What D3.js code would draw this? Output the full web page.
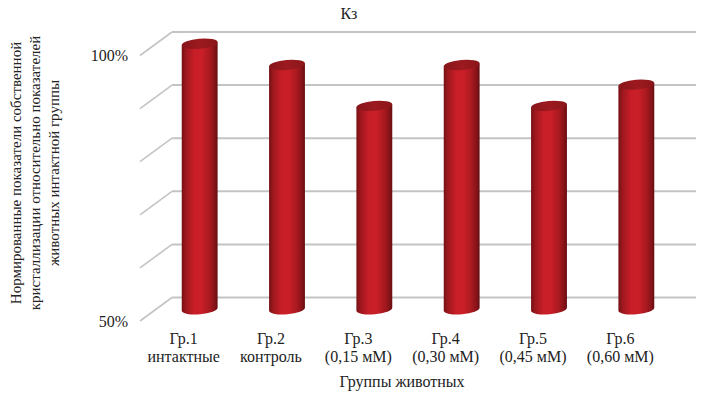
<!DOCTYPE html>
<html>
<head>
<meta charset="utf-8">
<script src="https://cdn.jsdelivr.net/npm/d3@7"></script>
<style>
  html, body { margin: 0; padding: 0; background: #fff; }
  svg { display: block; }
</style>
</head>
<body>
<svg id="chart" width="708" height="397"></svg>
<script>
// ---- data ----
const categories = ["Гр.1", "Гр.2", "Гр.3", "Гр.4", "Гр.5", "Гр.6"];
const subLabels = ["интактные", "контроль", "(0,15 мМ)", "(0,30 мМ)", "(0,45 мМ)", "(0,60 мМ)"];
const values = [100, 96, 88.3, 96, 88.3, 92.3];
const yTicks = [50, 60, 70, 80, 90, 100];
const yTickLabels = ["50%", "", "", "", "", "100%"];
const title = "Кз";
const xTitle = "Группы животных";
const yTitleLines = [
  "Нормированные показатели собственной",
  "кристаллизации относительно показателей",
  "животных интактной группы"
];

// ---- layout ----
const FONT = "'Liberation Serif', 'Times New Roman', 'DejaVu Serif', serif";
const svg = d3.select("#chart").attr("font-family", FONT);
const depthX = 32, depthY = 23.5;
const yBack = d3.scaleLinear().domain([50, 100]).range([297.5, 32]);
const yFront = v => yBack(v) + depthY;
const x = d3.scaleBand().domain(categories).range([140, 664]).padding(0);
const backRight = 696;

const defs = svg.append("defs");
const g1 = defs.append("linearGradient").attr("id", "cyl").attr("x1", "0").attr("x2", "1").attr("y1", "0").attr("y2", "0");
[["0%", "#741115"], ["12%", "#9e181e"], ["35%", "#c81e27"], ["55%", "#ca1f28"], ["78%", "#a8191f"], ["92%", "#851318"], ["100%", "#650d11"]]
  .forEach(([o, c]) => g1.append("stop").attr("offset", o).attr("stop-color", c));
const g2 = defs.append("linearGradient").attr("id", "cap").attr("x1", "0").attr("x2", "1").attr("y1", "0").attr("y2", "0");
[["0%", "#86151a"], ["50%", "#9c1a1f"], ["100%", "#8a161a"]]
  .forEach(([o, c]) => g2.append("stop").attr("offset", o).attr("stop-color", c));

// ---- gridlines ----
const grid = svg.append("g");
grid.selectAll("line.back").data(yTicks).join("line")
  .attr("x1", 140 + depthX).attr("x2", backRight)
  .attr("y1", d => yBack(d)).attr("y2", d => yBack(d))
  .attr("stroke", "#c4c4c4").attr("stroke-width", 2);
grid.selectAll("line.side").data(yTicks).join("line")
  .attr("x1", 140).attr("y1", d => yFront(d))
  .attr("x2", 140 + depthX).attr("y2", d => yBack(d))
  .attr("stroke", "#c4c4c4").attr("stroke-width", 1.6);

// ---- y tick labels ----
svg.append("g").selectAll("text").data(yTicks).join("text")
  .attr("x", 128).attr("y", d => yFront(d)).attr("dy", "0.35em")
  .attr("text-anchor", "end").attr("font-size", "16px").attr("fill", "#222")
  .text((d, i) => yTickLabels[i]);

// ---- cylinders ----
const rx = 18, ry = 5, rot = -5;
const rad = rot * Math.PI / 180;
const ex = rx * Math.cos(rad), ey = rx * Math.sin(rad);
const bars = svg.append("g");
categories.forEach((c, i) => {
  const cx = x(c) + x.bandwidth() / 2 + depthX / 2;
  const yT = yBack(values[i]) + depthY / 2;
  const yB = yBack(50) + depthY / 2;
  const path = `M${cx - ex},${yT - ey} L${cx - ex},${yB - ey} ` +
    `A${rx},${ry} ${rot} 0 0 ${cx + ex},${yB + ey} L${cx + ex},${yT + ey} Z`;
  bars.append("path").attr("d", path).attr("fill", "url(#cyl)");
  bars.append("ellipse").attr("cx", cx).attr("cy", yT).attr("rx", rx).attr("ry", ry)
    .attr("transform", `rotate(${rot},${cx},${yT})`)
    .attr("fill", "url(#cap)");
});

// ---- x labels ----
const xl = svg.append("g").attr("font-size", "16px").attr("text-anchor", "middle").attr("fill", "#222");
xl.selectAll("text.c").data(categories).join("text")
  .attr("x", d => x(d) + x.bandwidth() / 2).attr("y", 344).text(d => d);
xl.selectAll("text.s").data(subLabels).join("text")
  .attr("x", (d, i) => x(categories[i]) + x.bandwidth() / 2).attr("y", 362).text(d => d);

// ---- titles ----
svg.append("text").attr("x", 349).attr("y", 18.5).attr("text-anchor", "middle")
  .attr("font-size", "16px").attr("fill", "#222").text(title);
svg.append("text").attr("x", (x.range()[0] + x.range()[1]) / 2).attr("y", 387)
  .attr("text-anchor", "middle").attr("font-size", "16px").attr("fill", "#222").text(xTitle);
const yt = svg.append("text").attr("transform", "translate(0,173) rotate(-90)")
  .attr("text-anchor", "middle").attr("font-size", "15px").attr("fill", "#222");
yTitleLines.forEach((l, i) => yt.append("tspan").attr("x", 0).attr("y", 21 + i * 19).text(l));
</script>
</body>
</html>
